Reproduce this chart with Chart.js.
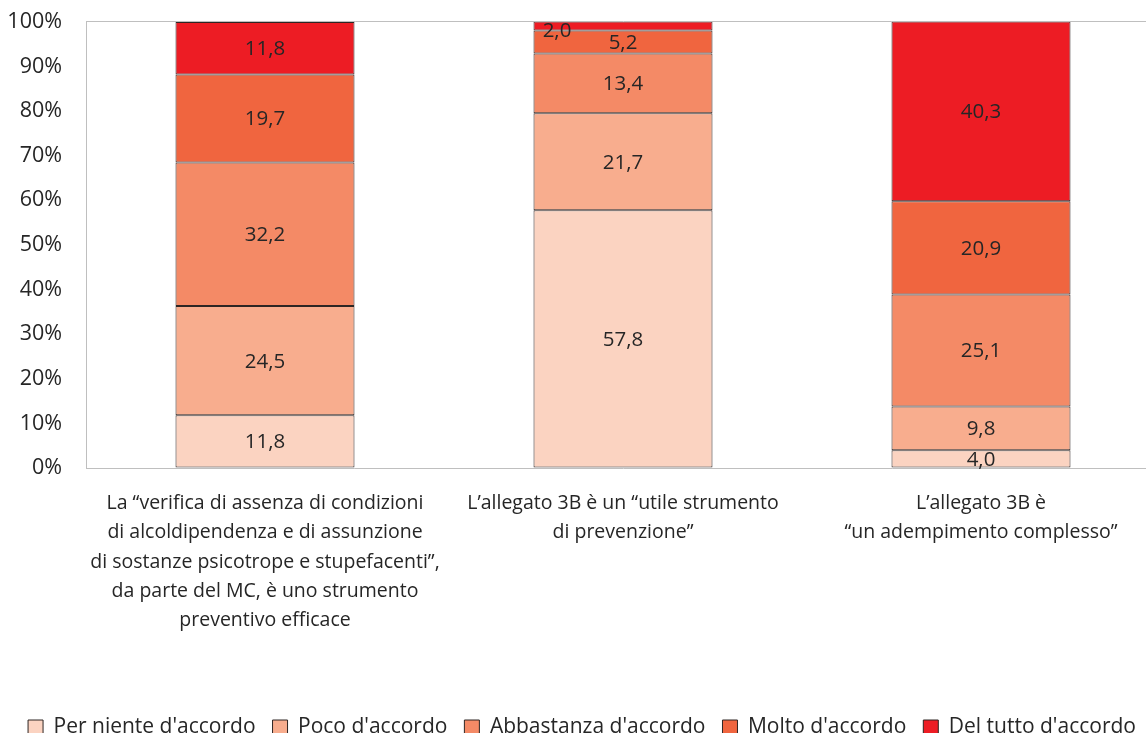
<!DOCTYPE html>
<html><head><meta charset="utf-8">
<script src="https://cdn.jsdelivr.net/npm/chart.js@4/dist/chart.umd.min.js"></script>
<style>
html,body{margin:0;padding:0;background:#fff;overflow:hidden;width:1146px;height:733px;}
#wrap{position:absolute;left:0;top:-15px;width:1160px;height:763px;}
</style></head>
<body><div id="wrap"><canvas id="c" width="1160" height="763"></canvas></div>
<script>
const categories = [
  ["La “verifica di assenza di condizioni","di alcoldipendenza e di assunzione","di sostanze psicotrope e stupefacenti”,","da parte del MC, è uno strumento","preventivo efficace"],
  ["L’allegato 3B è un “utile strumento","di prevenzione”"],
  ["L’allegato 3B è","“un adempimento complesso”"]
];
const seriesNames = ["Per niente d'accordo","Poco d'accordo","Abbastanza d'accordo","Molto d'accordo","Del tutto d'accordo"];
const perNiente = [11.8, 57.8, 4.0];
const poco = [24.5, 21.7, 9.8];
const abbastanza = [32.2, 13.4, 25.1];
const molto = [19.7, 5.2, 20.9];
const delTutto = [11.8, 2.0, 40.3];
const yTicks = [0,10,20,30,40,50,60,70,80,90,100];
const colors = ["#FBD3C1","#F8AD8E","#F48A66","#F0653F","#ED1C24"];

const seriesValues = [perNiente, poco, abbastanza, molto, delTutto];
const FONT = "'Open Sans', sans-serif";

const labelPlugin = {
  id: 'vals',
  afterDatasetsDraw(chart) {
    const ctx = chart.ctx;
    ctx.save();
    ctx.font = "20.5px " + FONT;
    ctx.fillStyle = "#262626";
    ctx.textAlign = "center";
    ctx.textBaseline = "middle";
    chart.data.datasets.forEach((ds, i) => {
      const meta = chart.getDatasetMeta(i);
      meta.data.forEach((bar, j) => {
        const v = ds.data[j];
        let y = (bar.y + bar.base) / 2;
        let x = bar.x;
        if (Math.abs(bar.base - bar.y) < 12 && y < chart.chartArea.top + 20) { x -= 66; y += 4; }
        ctx.fillText(v.toFixed(1).replace('.', ','), x, y + 1);
      });
    });
    ctx.restore();
  }
};

new Chart(document.getElementById('c'), {
  type: 'bar',
  data: {
    labels: categories,
    datasets: seriesValues.map((vals, i) => ({
      label: seriesNames[i],
      data: vals,
      backgroundColor: colors[i],
      borderColor: "#2e2624",
      borderWidth: 1,
      borderSkipped: false,
      barPercentage: 1,
      categoryPercentage: 0.5
    }))
  },
  options: {
    responsive: false,
    animation: false,
    layout: { padding: { top: 0, left: 4, right: 0, bottom: 0 } },
    plugins: {
      tooltip: { enabled: false },
      legend: {
        position: 'bottom',
        labels: {
          font: { family: FONT, size: 21 },
          color: "#262626",
          boxWidth: 15,
          boxHeight: 15,
          padding: 17,
          useBorderRadius: false
        }
      }
    },
    scales: {
      x: {
        stacked: true,
        grid: { display: false },
        border: { display: true, color: "#BFBFBF", width: 1 },
        ticks: {
          font: { family: FONT, size: 19.5, lineHeight: 1.5 },
          color: "#262626",
          maxRotation: 0,
          autoSkip: false,
          padding: 13
        },
        afterFit(scale) { scale.height = 232; scale.paddingLeft = 0; scale.paddingRight = 0; }
      },
      y: {
        stacked: true,
        min: 0, max: 100,
        afterBuildTicks(scale) { scale.ticks = yTicks.map(v => ({ value: v })); },
        ticks: {
          font: { family: FONT, size: 21.5 },
          color: "#262626",
          padding: 24,
          callback: v => v + '%'
        },
        afterFit(scale) { scale.width = 82; },
        grid: {
          drawTicks: false,
          color: ctx => (ctx.tick && ctx.tick.value === 100) ? "#BFBFBF" : "rgba(0,0,0,0)"
        },
        border: { display: true, color: "#BFBFBF", width: 1 }
      }
    }
  },
  plugins: [labelPlugin]
});
</script></body></html>
